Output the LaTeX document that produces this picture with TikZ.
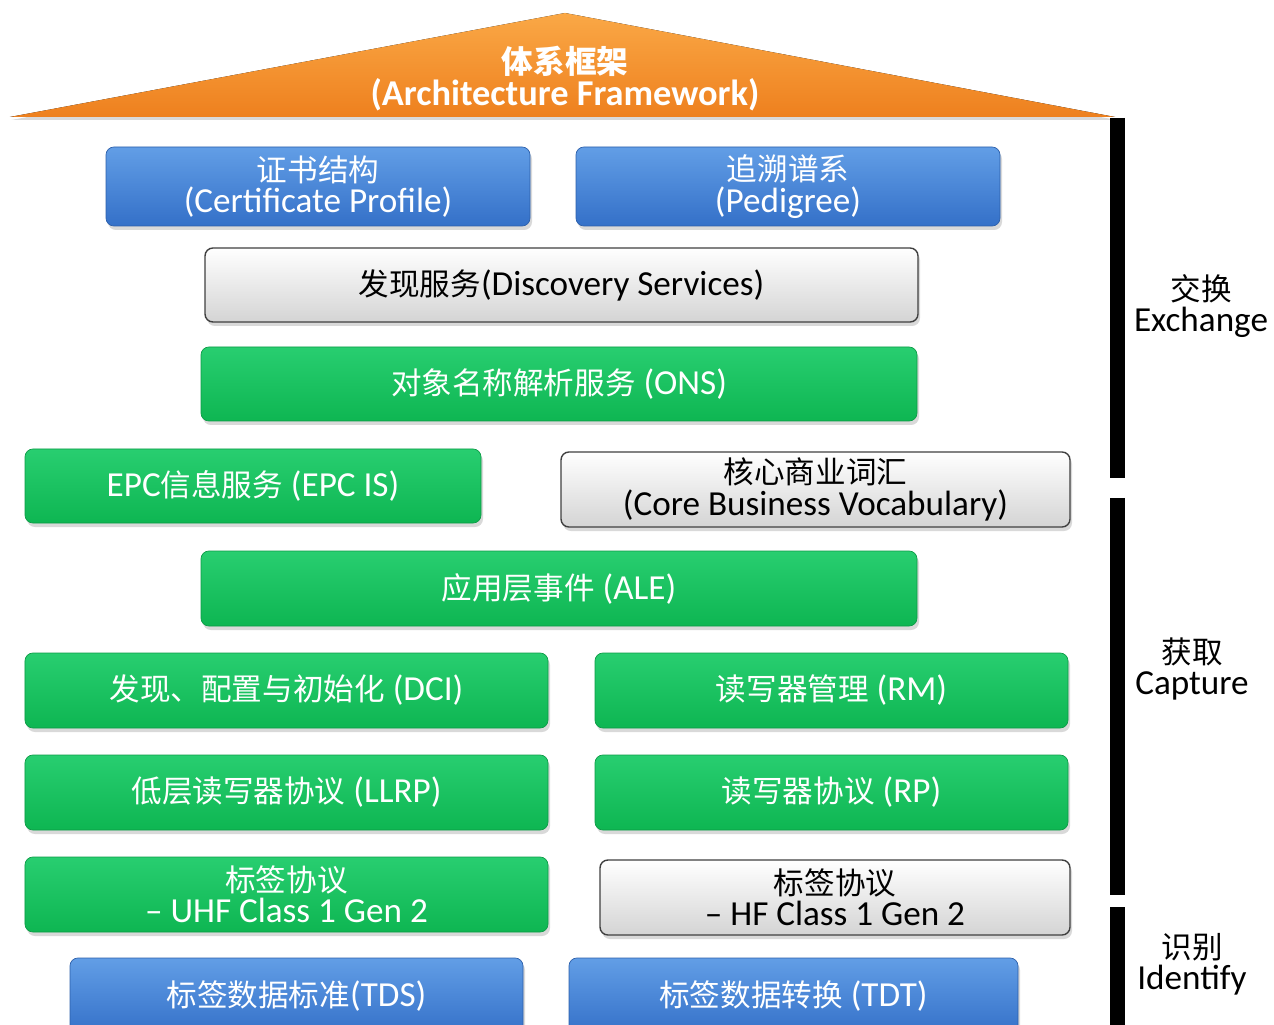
\documentclass[tikz,border=0pt]{standalone}
\usepackage{fontspec}
\setmainfont{Carlito}
\newfontfamily\zh[Scale=0.87]{Noto Sans CJK SC}
\usetikzlibrary{shadows}

\definecolor{albastrusus}{RGB}{98,158,230}
\definecolor{albastrujos}{RGB}{52,112,200}
\definecolor{verdesus}{RGB}{40,206,112}
\definecolor{verdejos}{RGB}{14,182,82}
\definecolor{grijos}{RGB}{212,212,212}
\definecolor{portocaliusus}{RGB}{250,168,70}
\definecolor{portocaliujos}{RGB}{238,128,30}

\begin{document}
\begin{tikzpicture}
        \useasboundingbox (0,0) rectangle (25.48,20.48);

        % Stilurile cutiilor.
        \tikzstyle{cutie} = [rounded corners=4.5pt, align=center, inner sep=0pt,
            font=\fontsize{20}{17.8}\selectfont,
            drop shadow={opacity=0.3, shadow xshift=0.04cm, shadow yshift=-0.08cm}]
        \tikzstyle{albastra} = [cutie, draw=albastrujos!85!black, top color=albastrusus, bottom color=albastrujos, text=white]
        \tikzstyle{verde} = [cutie, draw=verdejos!85!black, top color=verdesus, bottom color=verdejos, text=white]
        \tikzstyle{gri} = [cutie, draw=black!75, thick, top color=white, bottom color=grijos, text=black]
        \tikzstyle{bara} = [line width=0.3cm]
        \tikzstyle{eticheta} = [align=center, font=\fontsize{20}{17.6}\selectfont]

        % Acoperișul.
        \fill[top color=portocaliusus, bottom color=portocaliujos,
              drop shadow={opacity=0.3, shadow xshift=0.03cm, shadow yshift=-0.06cm}]
            (0.2,18.14) -- (11.3,20.22) -- (22.3,18.14) -- cycle;
        \node[align=center, text=white, font=\fontsize{20.7}{17.8}\selectfont\bfseries]
            (cadru) at (11.3,18.91) {{\zh 体系框架}\\(Architecture Framework)};

        % Cutiile.
        \node[albastra, minimum width=8.48cm, minimum height=1.58cm] (cert) at (6.36,16.75)
            {{\zh 证书结构}\\(Certificate Profile)};
        \node[albastra, minimum width=8.48cm, minimum height=1.58cm] (ped) at (15.76,16.75)
            {{\zh 追溯谱系}\\(Pedigree)};
        \node[gri, minimum width=14.26cm, minimum height=1.48cm] (ds) at (11.23,14.78)
            {{\zh 发现服务}(Discovery Services)};
        \node[verde, minimum width=14.32cm, minimum height=1.48cm] (ons) at (11.18,12.80)
            {{\zh 对象名称解析服务} (ONS)};
        \node[verde, minimum width=9.12cm, minimum height=1.48cm] (epcis) at (5.06,10.76)
            {EPC{\zh 信息服务} (EPC IS)};
        \node[gri, minimum width=10.18cm, minimum height=1.50cm] (cbv) at (16.31,10.69)
            {{\zh 核心商业词汇}\\(Core Business Vocabulary)};
        \node[verde, minimum width=14.32cm, minimum height=1.50cm] (ale) at (11.18,8.71)
            {{\zh 应用层事件} (ALE)};
        \node[verde, minimum width=10.46cm, minimum height=1.50cm] (dci) at (5.73,6.67)
            {{\zh 发现、配置与初始化} (DCI)};
        \node[verde, minimum width=9.46cm, minimum height=1.50cm] (rm) at (16.63,6.67)
            {{\zh 读写器管理} (RM)};
        \node[verde, minimum width=10.46cm, minimum height=1.50cm] (llrp) at (5.73,4.63)
            {{\zh 低层读写器协议} (LLRP)};
        \node[verde, minimum width=9.46cm, minimum height=1.50cm] (rp) at (16.63,4.63)
            {{\zh 读写器协议} (RP)};
        \node[verde, minimum width=10.46cm, minimum height=1.50cm] (uhf) at (5.73,2.59)
            {{\zh 标签协议}\\– UHF Class 1 Gen 2};
        \node[gri, minimum width=9.40cm, minimum height=1.50cm] (hf) at (16.70,2.53)
            {{\zh 标签协议}\\– HF Class 1 Gen 2};
        \node[albastra, minimum width=9.06cm, minimum height=1.54cm] (tds) at (5.93,0.55)
            {{\zh 标签数据标准}(TDS)};
        \node[albastra, minimum width=8.98cm, minimum height=1.54cm] (tdt) at (15.87,0.55)
            {{\zh 标签数据转换} (TDT)};

        % Barele și nivelurile.
        \draw[bara] (22.35,18.12) -- (22.35,10.92);
        \draw[bara] (22.35,10.52) -- (22.35,2.58);
        \draw[bara] (22.35,2.34) -- (22.35,-0.2);
        \node[eticheta] (schimb) at (24.02,14.36) {{\zh 交换}\\Exchange};
        \node[eticheta] (captura) at (23.84,7.10) {{\zh 获取}\\Capture};
        \node[eticheta] (identif) at (23.84,1.20) {{\zh 识别}\\Identify};
    \end{tikzpicture}
\end{document}
